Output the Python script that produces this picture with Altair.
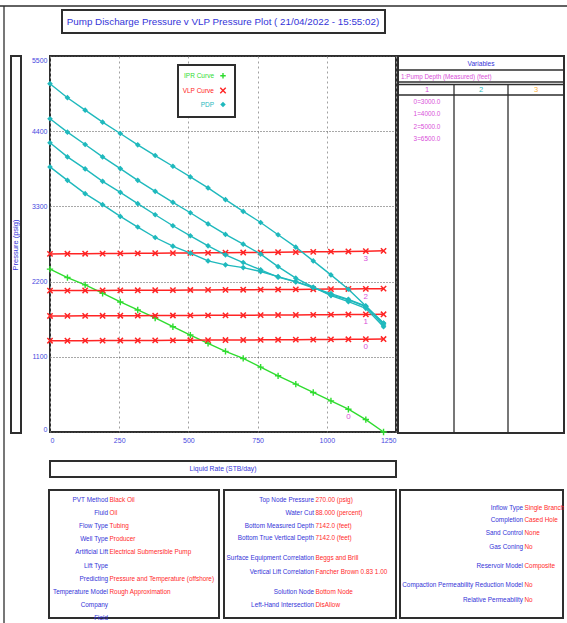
import altair as alt
import pandas as pd

# ---------------- data ----------------
rates = [0, 63, 127, 190, 254, 317, 380, 444, 507, 571, 634, 698, 761, 824, 888, 951, 1015, 1078, 1141, 1205]
ipr_pressure = [2382, 2259, 2152, 2030, 1902, 1785, 1668, 1540, 1418, 1296, 1179, 1076, 949, 822, 700, 578, 455, 333, 182, 0]
vlp_0 = [1335, 1335, 1336, 1337, 1338, 1339, 1340, 1341, 1342, 1344, 1345, 1346, 1348, 1349, 1351, 1352, 1354, 1356, 1358, 1360]
vlp_1 = [1697, 1698, 1699, 1700, 1701, 1702, 1703, 1704, 1705, 1706, 1707, 1708, 1710, 1711, 1712, 1714, 1716, 1718, 1720, 1722]
vlp_2 = [2068, 2069, 2070, 2071, 2072, 2073, 2074, 2075, 2077, 2078, 2080, 2081, 2083, 2084, 2086, 2088, 2090, 2092, 2094, 2097]
vlp_3 = [2605, 2607, 2608, 2610, 2612, 2613, 2615, 2617, 2619, 2621, 2623, 2625, 2627, 2630, 2632, 2635, 2638, 2641, 2645, 2650]
pdp_0 = [3878, 3681, 3486, 3325, 3153, 2998, 2845, 2718, 2616, 2503, 2445, 2405, 2347, 2273, 2200, 2118, 1995, 1906, 1809, 1540]
pdp_1 = [4230, 4024, 3848, 3667, 3506, 3340, 3178, 3017, 2870, 2723, 2592, 2479, 2372, 2265, 2195, 2110, 2025, 1940, 1840, 1565]
pdp_2 = [4582, 4386, 4205, 4024, 3853, 3681, 3520, 3359, 3207, 3044, 2890, 2748, 2602, 2420, 2250, 2118, 2005, 1932, 1833, 1594]
pdp_3 = [5095, 4890, 4708, 4532, 4366, 4200, 4044, 3887, 3731, 3570, 3398, 3227, 3065, 2885, 2704, 2503, 2298, 2088, 1844, 1590]
series_ids = ["0", "1", "2", "3"]

x_ticks = [0, 250, 500, 750, 1000, 1250]
y_ticks = [0, 1100, 2200, 3300, 4400, 5500]

title_text = "Pump Discharge Pressure v VLP Pressure Plot ( 21/04/2022 - 15:55:02)"
x_title = "Liquid Rate (STB/day)"
y_title = "Pressure (psig)"
legend_names = ["IPR Curve", "VLP Curve", "PDP"]

var_header = "Variables"
var_name = "1:Pump Depth (Measured) (feet)"
var_columns = ["1", "2", "3"]
var_values = ["0=3000.0", "1=4000.0", "2=5000.0", "3=6500.0"]

p1_labels = ["PVT Method", "Fluid", "Flow Type", "Well Type", "Artificial Lift", "Lift Type",
             "Predicting", "Temperature Model", "Company", "Field"]
p1_values = ["Black Oil", "Oil", "Tubing", "Producer", "Electrical Submersible Pump", "",
             "Pressure and Temperature (offshore)", "Rough Approximation", "", ""]
p2_labels = ["Top Node Pressure", "Water Cut", "Bottom Measured Depth", "Bottom True Vertical Depth",
             "Surface Equipment Correlation", "Vertical Lift Correlation", "Solution Node", "Left-Hand Intersection"]
p2_values = ["270.00 (psig)", "88.000 (percent)", "7142.0 (feet)", "7142.0 (feet)",
             "Beggs and Brill", "Fancher Brown 0.83 1.00", "Bottom Node", "DisAllow"]
p3_labels = ["Inflow Type", "Completion", "Sand Control", "Gas Coning", "Reservoir Model",
             "Compaction Permeability Reduction Model", "Relative Permeability"]
p3_values = ["Single Branch", "Cased Hole", "None", "No", "Composite", "No", "No"]

# ---------------- layout / style ----------------
FONT = "Liberation Sans, Arial, sans-serif"
CW, CH = 567, 623
OX, OY, W, H = 50, 56, 346, 376
GREEN, RED, CYAN = "#2fdc2f", "#ff2424", "#1fb9bd"
MAGENTA, BLUE, ORANGE = "#d94fd9", "#3434d8", "#ffb23a"
VAL_RED = "#ff2a2a"
BORDER = "#2e2e2e"
PANEL_FS = 6.4


def rx(px):
    return px - OX


def ry(py):
    return py - OY


p1_rows = [500 + 13.1 * i for i in range(len(p1_labels))]
p2_rows = [500, 512.7, 525.6, 538.3, 557.7, 572.3, 591.7, 605]
p3_rows = [507.7, 519.8, 533.3, 546.7, 566, 585, 600]

# ---------------- data plot ----------------
xs = alt.Scale(domain=[0, 1250], nice=False, zero=False)
ys = alt.Scale(domain=[0, 5500], nice=False)
ax_x = alt.Axis(values=x_ticks, title=None, grid=True, gridDash=[2, 3], gridColor="#a0a0a0",
                labelColor="#4848e0", labelFont=FONT, labelFontSize=7, labelFlush=True, format="d",
                ticks=False, domain=False, labelPadding=4)
ax_y = alt.Axis(values=y_ticks, title=None, grid=True, gridDash=[1, 2], gridColor="#505050",
                labelColor="#4848e0", labelFont=FONT, labelFontSize=7, labelFlush=True, format="d",
                ticks=False, domain=False, labelPadding=3)

ipr_df = pd.DataFrame({"rate": rates, "p": ipr_pressure})
vlp_df = pd.concat([pd.DataFrame({"rate": rates, "p": v, "s": sid})
                    for v, sid in zip([vlp_0, vlp_1, vlp_2, vlp_3], series_ids)])
pdp_df = pd.concat([pd.DataFrame({"rate": rates, "p": v, "s": sid})
                    for v, sid in zip([pdp_0, pdp_1, pdp_2, pdp_3], series_ids)])

X = alt.X("rate:Q", scale=xs, axis=ax_x)
Y = alt.Y("p:Q", scale=ys, axis=ax_y)

PLUS = "M-1,0L1,0M0,-1L0,1"
CROSS = "M-1,-1L1,1M-1,1L1,-1"

ipr_line = alt.Chart(ipr_df).mark_line(color=GREEN, strokeWidth=1.4).encode(x=X, y=Y)
ipr_pts = alt.Chart(ipr_df).mark_point(shape=PLUS, size=40, color=GREEN, strokeWidth=1.4, opacity=1).encode(x=X, y=Y)
vlp_line = alt.Chart(vlp_df).mark_line(color=RED, strokeWidth=1.5).encode(x=X, y=Y, detail="s:N")
vlp_pts = alt.Chart(vlp_df).mark_point(shape=CROSS, size=28, color=RED, strokeWidth=1.5, opacity=1).encode(x=X, y=Y, detail="s:N")
pdp_line = alt.Chart(pdp_df).mark_line(color=CYAN, strokeWidth=1.4).encode(x=X, y=Y, detail="s:N")
pdp_pts = alt.Chart(pdp_df).mark_point(shape="diamond", filled=True, size=32, color=CYAN, opacity=1).encode(x=X, y=Y, detail="s:N")

idx_lbl_df = pd.concat([
    pd.DataFrame({"rate": [rates[18]] * 4, "p": [v[18] for v in [vlp_0, vlp_1, vlp_2, vlp_3]], "t": series_ids}),
    pd.DataFrame({"rate": [rates[17]], "p": [ipr_pressure[17]], "t": ["0"]}),
])
idx_lbl = alt.Chart(idx_lbl_df).mark_text(color=MAGENTA, dy=8, font=FONT, fontSize=8).encode(x=X, y=Y, text="t:N")

plot = alt.layer(ipr_line, ipr_pts, vlp_line, vlp_pts, pdp_line, pdp_pts, idx_lbl)

# ---------------- frame, panels, texts (pixel positions) ----------------
PX = alt.X("x:Q", scale=None, axis=None)
PY = alt.Y("y:Q", scale=None, axis=None)

boxes = pd.DataFrame([
    dict(x=rx(62), x2=rx(385), y=ry(10), y2=ry(33)),      # title
    dict(x=rx(11), x2=rx(21), y=ry(56), y2=ry(433)),      # y title
    dict(x=rx(50), x2=rx(396), y=ry(461), y2=ry(477)),    # x title
    dict(x=rx(398), x2=rx(564), y=ry(56), y2=ry(433)),    # variables
    dict(x=rx(49), x2=rx(219), y=ry(490), y2=ry(618)),    # panel 1
    dict(x=rx(224), x2=rx(396), y=ry(490), y2=ry(618)),   # panel 2
    dict(x=rx(400), x2=rx(563), y=ry(490), y2=ry(618)),   # panel 3
])
box_layer = alt.Chart(boxes).mark_rect(fill="white", fillOpacity=0, stroke=BORDER, strokeWidth=2).encode(
    x=PX, x2="x2:Q", y=PY, y2="y2:Q")
legend_box = alt.Chart(pd.DataFrame([dict(x=rx(178), x2=rx(235), y=ry(65), y2=ry(117))])).mark_rect(
    fill="white", fillOpacity=1, stroke=BORDER, strokeWidth=2).encode(x=PX, x2="x2:Q", y=PY, y2="y2:Q")

rules = pd.DataFrame([
    dict(x=rx(0), x2=rx(567), y=ry(6), y2=ry(6)),
    dict(x=rx(4), x2=rx(4), y=ry(6), y2=ry(623)),
    dict(x=rx(398), x2=rx(564), y=ry(70), y2=ry(70)),
    dict(x=rx(398), x2=rx(564), y=ry(82), y2=ry(82)),
    dict(x=rx(398), x2=rx(564), y=ry(84.5), y2=ry(84.5)),
    dict(x=rx(398), x2=rx(564), y=ry(95), y2=ry(95)),
    dict(x=rx(454), x2=rx(454), y=ry(84.5), y2=ry(433)),
    dict(x=rx(508), x2=rx(508), y=ry(84.5), y2=ry(433)),
])
rule_layer = alt.Chart(rules).mark_rule(color=BORDER, strokeWidth=1.3).encode(
    x=PX, x2="x2:Q", y=PY, y2="y2:Q")

center_txt = [dict(x=rx(223), y=ry(21.5), t=title_text, c=BLUE, s=9.8),
              dict(x=rx(223), y=ry(469), t=x_title, c=BLUE, s=6.8),
              dict(x=rx(481), y=ry(63.5), t=var_header, c=BLUE, s=6.6)]
for col, cx, cc in zip(var_columns, [427, 481, 536], [MAGENTA, CYAN, ORANGE]):
    center_txt.append(dict(x=rx(cx), y=ry(89.5), t=col, c=cc, s=7.5))
for i, v in enumerate(var_values):
    center_txt.append(dict(x=rx(427), y=ry(101.7 + 12.4 * i), t=v, c=MAGENTA, s=6.4))

left_txt = [dict(x=rx(401), y=ry(76.5), t=var_name, c=MAGENTA, s=6.3)]
right_txt = []
for labels, values, rows, edge in [(p1_labels, p1_values, p1_rows, 108),
                                   (p2_labels, p2_values, p2_rows, 314),
                                   (p3_labels, p3_values, p3_rows, 523)]:
    for lab, val, yy in zip(labels, values, rows):
        right_txt.append(dict(x=rx(edge), y=ry(yy), t=lab, c=BLUE, s=PANEL_FS))
        if val:
            left_txt.append(dict(x=rx(edge + 1.5), y=ry(yy), t=val, c=VAL_RED, s=PANEL_FS))

leg_txt = []
leg_y = [75.7, 90.5, 104.5]
for name, col, yy in zip(legend_names, [GREEN, RED, CYAN], leg_y):
    leg_txt.append(dict(x=rx(214), y=ry(yy), t=name, c=col, s=6.5))


def text_layer(rows, align, angle=0):
    return alt.Chart(pd.DataFrame(rows)).mark_text(align=align, baseline="middle", font=FONT, angle=angle).encode(
        x=PX, y=PY, text="t:N", color=alt.Color("c:N", scale=None), size=alt.Size("s:Q", scale=None))


ytitle_layer = text_layer([dict(x=rx(16), y=ry(245), t=y_title, c=BLUE, s=7.5)], "center", angle=270)

leg_sym_line = alt.Chart(pd.DataFrame([
    dict(x=rx(223), y=ry(leg_y[0]), sh=PLUS, c=GREEN),
    dict(x=rx(223), y=ry(leg_y[1]), sh=CROSS, c=RED),
])).mark_point(size=30, strokeWidth=1.4, opacity=1).encode(
    x=PX, y=PY, shape=alt.Shape("sh:N", scale=None), color=alt.Color("c:N", scale=None))
leg_sym_fill = alt.Chart(pd.DataFrame([dict(x=rx(223), y=ry(leg_y[2]), c=CYAN)])).mark_point(
    shape="diamond", filled=True, size=30, opacity=1).encode(x=PX, y=PY, color=alt.Color("c:N", scale=None))

chart = alt.layer(
    plot, box_layer, rule_layer, legend_box,
    text_layer(center_txt, "center"), text_layer(left_txt, "left"), text_layer(right_txt, "right"),
    text_layer(leg_txt, "right"), ytitle_layer, leg_sym_line, leg_sym_fill,
).resolve_scale(
    x="independent", y="independent", color="independent", shape="independent", size="independent"
).properties(
    width=W, height=H,
    padding={"left": OX, "top": OY, "right": CW - OX - W, "bottom": CH - OY - H},
    autosize=alt.AutoSizeParams(type="none"),
    background="white",
).configure_view(stroke=BORDER, strokeWidth=2)

chart.save("out.html", embed_options={"renderer": "svg", "actions": False})
